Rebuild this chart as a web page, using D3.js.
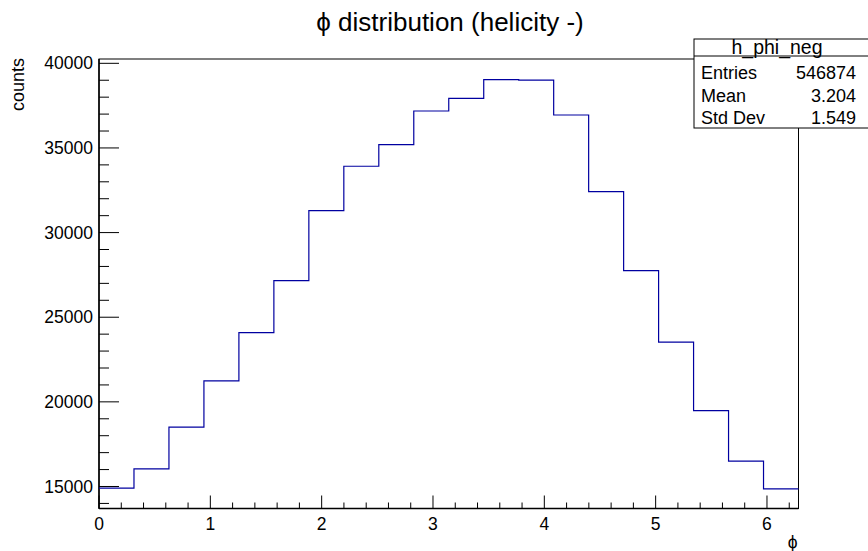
<!DOCTYPE html>
<html>
<head>
<meta charset="utf-8">
<script src="https://cdn.jsdelivr.net/npm/d3@7"></script>
<style>
  body { margin: 0; background: #fff; }
  svg { display: block; font-family: "Liberation Sans", Arial, Helvetica, sans-serif; }
</style>
</head>
<body>
<svg id="chart" width="868" height="551"></svg>
<script>
// histogram h_phi_neg: 20 bins over [0, 2pi]
const binCounts = [
  14906, 16045, 18507, 21241, 24093, 27163, 31297, 33918, 35195, 37183,
  37933, 39032, 39010, 36947, 32419, 27754, 23526, 19488, 16500, 14864
];
const xMajorTicks = [0, 1, 2, 3, 4, 5, 6];
const yMajorTicks = [15000, 20000, 25000, 30000, 35000, 40000];
const statRows = [
  ["Entries", "546874"],
  ["Mean", "3.204"],
  ["Std Dev", "1.549"]
];

const svg = d3.select("#chart");
const frame = { left: 99, right: 798.5, top: 59, bottom: 508.5 };
const xMax = 2 * Math.PI;
const binWidth = xMax / binCounts.length;

const x = d3.scaleLinear().domain([0, xMax]).range([frame.left, frame.right]);
const y = d3.scaleLinear().domain([13700, 40255]).range([frame.bottom, frame.top]);

// frame box
svg.append("rect")
  .attr("x", frame.left)
  .attr("y", frame.top)
  .attr("width", frame.right - frame.left)
  .attr("height", frame.bottom - frame.top)
  .attr("fill", "none")
  .attr("stroke", "#000")
  .attr("stroke-width", 1);

// x axis: major every 1, minor every 0.2
const xAxis = svg.append("g").attr("transform", `translate(0,${frame.bottom})`);
const xMinor = d3.range(0, xMax, 0.2).filter((v) => Math.abs(v - Math.round(v)) > 1e-6);
xAxis.selectAll("line.minor")
  .data(xMinor)
  .enter()
  .append("line")
  .attr("x1", (d) => x(d)).attr("x2", (d) => x(d))
  .attr("y1", 0).attr("y2", -6)
  .attr("stroke", "#000");
xAxis.selectAll("line.major")
  .data(xMajorTicks)
  .enter()
  .append("line")
  .attr("x1", (d) => x(d)).attr("x2", (d) => x(d))
  .attr("y1", 0).attr("y2", -13)
  .attr("stroke", "#000");
xAxis.selectAll("text")
  .data(xMajorTicks)
  .enter()
  .append("text")
  .attr("x", (d) => x(d))
  .attr("y", 21)
  .attr("text-anchor", "middle")
  .attr("font-size", 17.5)
  .text((d) => d);
xAxis.append("line")
  .attr("x1", frame.left).attr("x2", frame.right)
  .attr("stroke", "#000").attr("stroke-width", 1.5);

// y axis: major every 5000, minor every 1000
const yAxis = svg.append("g").attr("transform", `translate(${frame.left},0)`);
const yMinor = d3.range(14000, 40001, 1000).filter((v) => v % 5000 !== 0);
yAxis.selectAll("line.minor")
  .data(yMinor)
  .enter()
  .append("line")
  .attr("x1", 0).attr("x2", 10)
  .attr("y1", (d) => y(d)).attr("y2", (d) => y(d))
  .attr("stroke", "#000");
yAxis.selectAll("line.major")
  .data(yMajorTicks)
  .enter()
  .append("line")
  .attr("x1", 0).attr("x2", 20)
  .attr("y1", (d) => y(d)).attr("y2", (d) => y(d))
  .attr("stroke", "#000");
yAxis.selectAll("text")
  .data(yMajorTicks)
  .enter()
  .append("text")
  .attr("x", -6)
  .attr("y", (d) => y(d))
  .attr("dy", "0.35em")
  .attr("text-anchor", "end")
  .attr("font-size", 17.5)
  .text((d) => d);
yAxis.append("line")
  .attr("y1", frame.top).attr("y2", frame.bottom)
  .attr("stroke", "#000").attr("stroke-width", 1.5);

// histogram outline as a step path
const pts = [];
binCounts.forEach((v, i) => {
  pts.push([x(i * binWidth), y(v)]);
  pts.push([x((i + 1) * binWidth), y(v)]);
});
svg.append("path")
  .attr("d", d3.line()(pts))
  .attr("fill", "none")
  .attr("stroke", "#0000a0")
  .attr("stroke-width", 1.2);

// title and axis labels
svg.append("text")
  .attr("x", 450)
  .attr("y", 31)
  .attr("text-anchor", "middle")
  .attr("font-size", 26)
  .text("\u03d5 distribution (helicity -)");

svg.append("text")
  .attr("transform", `translate(24,${frame.top - 1}) rotate(-90)`)
  .attr("text-anchor", "end")
  .attr("font-size", 18)
  .text("counts");

svg.append("text")
  .attr("x", frame.right - 1)
  .attr("y", 548)
  .attr("text-anchor", "end")
  .attr("font-size", 17.5)
  .text("\u03d5");

// stat box
const box = svg.append("g").attr("transform", "translate(694,39)");
box.append("rect")
  .attr("width", 180)
  .attr("height", 89)
  .attr("fill", "#fff")
  .attr("stroke", "#000");
box.append("line")
  .attr("x1", 0).attr("x2", 180)
  .attr("y1", 17).attr("y2", 17)
  .attr("stroke", "#000");
box.append("text")
  .attr("x", 83)
  .attr("y", 15)
  .attr("text-anchor", "middle")
  .attr("font-size", 19.5)
  .text("h_phi_neg");
statRows.forEach((row, i) => {
  const ty = 40 + i * 22.5;
  box.append("text")
    .attr("x", 7).attr("y", ty)
    .attr("font-size", 18)
    .text(row[0]);
  box.append("text")
    .attr("x", 162).attr("y", ty)
    .attr("text-anchor", "end")
    .attr("font-size", 18)
    .text(row[1]);
});
</script>
</body>
</html>
